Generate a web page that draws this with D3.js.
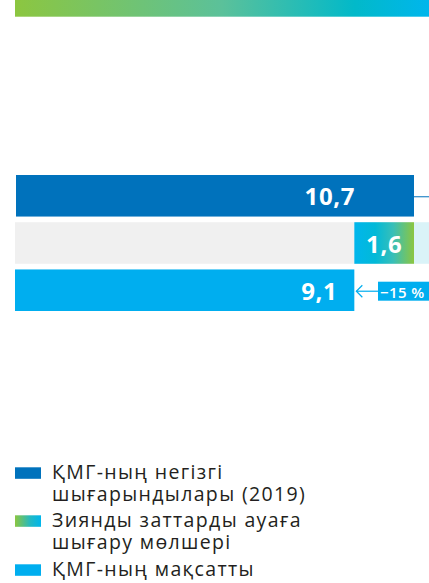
<!DOCTYPE html>
<html>
<head>
<meta charset="utf-8">
<script src="https://cdn.jsdelivr.net/npm/d3@7/dist/d3.min.js"></script>
<style>
  html, body { margin: 0; padding: 0; background: #ffffff; }
  svg { display: block; }
  text { font-family: "Open Sans", "Noto Sans", sans-serif; }
</style>
</head>
<body>
<svg id="chart" width="429" height="583"></svg>
<script>
// Emission values, million tonnes CO2-eq
const categories = ["ҚМГ-ның негізгі шығарындылары (2019)", "Зиянды заттарды ауаға шығару мөлшері", "ҚМГ-ның мақсатты"];
const values = [10.7, 1.6, 9.1];
const valueLabels = ["10,7", "1,6", "9,1"];
const reductionLabel = "−15 %";
const legendLines = [
  ["ҚМГ-ның негізгі", "шығарындылары (2019)"],
  ["Зиянды заттарды ауаға", "шығару мөлшері"],
  ["ҚМГ-ның мақсатты"]
];

const svg = d3.select("#chart");
const W = 429;

const defs = svg.append("defs");
const gBand = defs.append("linearGradient").attr("id", "band");
gBand.append("stop").attr("offset", "0%").attr("stop-color", "#8cc640");
gBand.append("stop").attr("offset", "50%").attr("stop-color", "#5bc19a");
gBand.append("stop").attr("offset", "82%").attr("stop-color", "#02b9c9");
gBand.append("stop").attr("offset", "100%").attr("stop-color", "#00b6ec");

const gCut = defs.append("linearGradient").attr("id", "cut");
gCut.append("stop").attr("offset", "0%").attr("stop-color", "#00b6ec");
gCut.append("stop").attr("offset", "35%").attr("stop-color", "#02b9d8");
gCut.append("stop").attr("offset", "65%").attr("stop-color", "#38bfb8");
gCut.append("stop").attr("offset", "100%").attr("stop-color", "#8cc640");

const gLeg = defs.append("linearGradient").attr("id", "leg");
gLeg.append("stop").attr("offset", "0%").attr("stop-color", "#8cc640");
gLeg.append("stop").attr("offset", "60%").attr("stop-color", "#22b9c4");
gLeg.append("stop").attr("offset", "100%").attr("stop-color", "#00b6ec");

// header band
svg.append("rect").attr("x", 15).attr("y", 0).attr("width", W - 15).attr("height", 16.7)
  .attr("fill", "url(#band)");

// scales
const x = d3.scaleLinear().domain([0, values[0]]).range([15, 414]);
const y = d3.scaleBand().domain(d3.range(3)).range([175, 311]).paddingInner(0.12).paddingOuter(0);
const bh = y.bandwidth();

// row 1: base emissions
svg.append("rect").attr("x", x(0) + 1).attr("y", y(0)).attr("width", x(values[0]) - x(0) - 1).attr("height", bh)
  .attr("fill", "#0072bc");
svg.append("line").attr("x1", x(values[0])).attr("x2", W).attr("y1", y(0) + bh / 2 + 1).attr("y2", y(0) + bh / 2 + 1)
  .attr("stroke", "#0072bc").attr("stroke-width", 1);

// row 2: grey track with reduction segment
svg.append("rect").attr("x", x(0)).attr("y", y(1)).attr("width", x(values[0]) - x(0)).attr("height", bh)
  .attr("fill", "#f0f0f0");
svg.append("rect").attr("x", x(values[0])).attr("y", y(1)).attr("width", W - x(values[0])).attr("height", bh)
  .attr("fill", "#daf3f8");
const cutStart = values[0] - values[1];
svg.append("rect").attr("x", x(cutStart)).attr("y", y(1)).attr("width", x(values[0]) - x(cutStart)).attr("height", bh)
  .attr("fill", "url(#cut)");

// row 3: target
svg.append("rect").attr("x", x(0)).attr("y", y(2)).attr("width", x(values[2]) - x(0)).attr("height", bh)
  .attr("fill", "#00aeef");

// value labels
const labelStyle = sel => sel.attr("fill", "#ffffff").attr("font-weight", 700).attr("font-size", 24)
  .attr("letter-spacing", 0.6).attr("dominant-baseline", "central");
svg.append("text").call(labelStyle).attr("x", x(values[0]) - 59).attr("y", y(0) + bh / 2).attr("text-anchor", "end")
  .text(valueLabels[0]);
svg.append("text").call(labelStyle).attr("x", (x(cutStart) + x(values[0])) / 2).attr("y", y(1) + bh / 2).attr("text-anchor", "middle")
  .text(valueLabels[1]);
svg.append("text").call(labelStyle).attr("x", x(values[2]) - 17).attr("y", y(2) + bh / 2).attr("text-anchor", "end")
  .text(valueLabels[2]);

// reduction callout
const ay = y(2) + bh / 2 + 1;
svg.append("line").attr("x1", x(values[2]) + 2).attr("x2", 379).attr("y1", ay).attr("y2", ay)
  .attr("stroke", "#00aeef").attr("stroke-width", 1.2);
svg.append("path").attr("d", `M${x(values[2]) + 8},${ay - 6} L${x(values[2]) + 2},${ay} L${x(values[2]) + 8},${ay + 6}`)
  .attr("fill", "none").attr("stroke", "#00aeef").attr("stroke-width", 1.2);
svg.append("rect").attr("x", 378).attr("y", 281.7).attr("width", W - 378).attr("height", 19)
  .attr("fill", "#00aeef");
svg.append("text").attr("x", 380).attr("y", 291.5).attr("dominant-baseline", "central")
  .attr("fill", "#ffffff").attr("font-weight", 600).attr("font-size", 15).attr("letter-spacing", 0.4).text(reductionLabel);

// legend
const legendFills = ["#0072bc", "url(#leg)", "#00aeef"];
const legendTop = [467.3, 515.3, 564.3];
legendLines.forEach((lines, i) => {
  const g = svg.append("g");
  g.append("rect").attr("x", 15).attr("y", legendTop[i]).attr("width", 26).attr("height", 11.5)
    .attr("fill", legendFills[i]);
  lines.forEach((t, j) => {
    g.append("text").attr("x", 52).attr("y", legendTop[i] + 12 + j * 21.5)
      .attr("fill", "#231f20").attr("font-size", 19.5).attr("letter-spacing", 1.35).text(t);
  });
});
</script>
</body>
</html>
